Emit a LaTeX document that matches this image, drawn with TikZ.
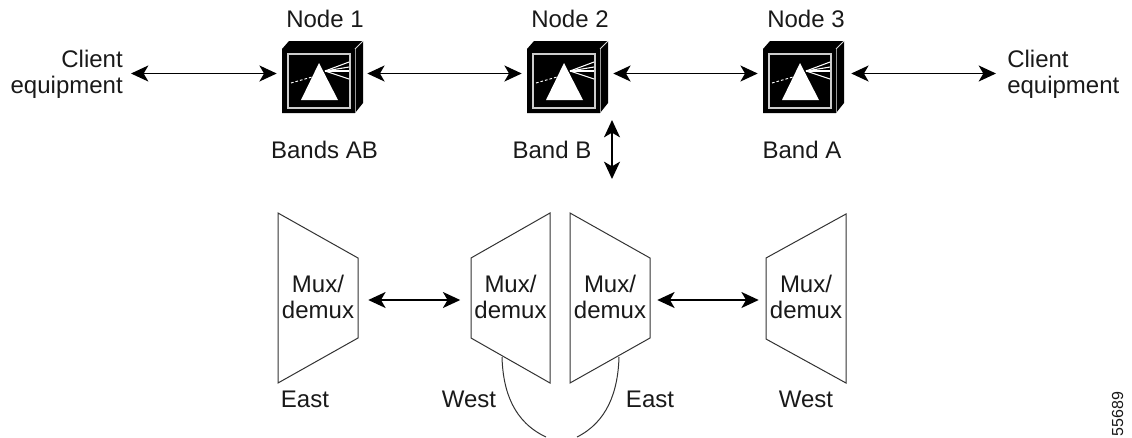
\documentclass[tikz,border=0pt]{standalone}
\usepackage{fontspec}
\setmainfont{Liberation Sans}
\usetikzlibrary{arrows.meta}
\tikzset{
  conn/.style={line width=1.2pt,draw=black,{Stealth[length=13pt,width=12pt,inset=3.5pt]}-{Stealth[length=13pt,width=12pt,inset=3.5pt]}},
  lab/.style={font=\fontsize{18}{19.5}\selectfont,text=black!90,inner sep=0pt,anchor=base},
  port/.style={inner sep=0pt,minimum width=#1,minimum height=64*0.75pt},
  muxbox/.style={inner sep=0pt,minimum width=60pt,minimum height=120pt,align=center,font=\fontsize{18}{19.5}\selectfont,text=black!90},
  trap/.style={draw=black!80,line width=0.75pt,line join=miter,fill=white},
  loopline/.style={draw=black!80,line width=0.75pt},
  prismframe/.style={draw=black!20,line width=0.9pt},
  ray/.style={draw=white,line width=0.8pt}
}
\newcommand{\prismbox}[1]{%
  \begin{scope}[shift={(#1,0)}]
    \fill[black] (282,49) -- (289,41) -- (363,41) -- (363,103) -- (355,113) -- (282,113) -- cycle;
    \draw[draw=black!15,line width=0.6pt] (355,49) -- (363,41);
    \draw[draw=black!40,line width=0.6pt] (355,49) -- (355,113);
    \draw[prismframe] (288,54) rectangle (350,108);
    \fill[white] (319,63) -- (338,100) -- (301,100) -- cycle;
    \draw[white,line width=0.7pt,dash pattern=on 2pt off 1.5pt] (291,83) -- (312,77);
    \draw[ray] (325,71) -- (349,62);
    \draw[ray] (325,71) -- (349,67);
    \draw[ray] (325,71) -- (349,71);
    \draw[ray] (325,71) -- (349,79);
  \end{scope}}
\begin{document}
\begin{tikzpicture}[x=0.75pt,y=-0.75pt]
\useasboundingbox (0,0) rectangle (1132,437);
% prism boxes
\prismbox{0}
\prismbox{245}
\prismbox{481}
% trapezoids
\draw[trap] (278,213) -- (358,258) -- (358,338) -- (278,383) -- cycle;
\draw[trap] (471,258) -- (550,213) -- (550,383) -- (471,338) -- cycle;
\draw[trap] (570,213) -- (650,258) -- (650,338) -- (570,383) -- cycle;
\draw[trap] (766,258) -- (846,214) -- (846,383) -- (766,339) -- cycle;
% invisible anchors for the nodes
\node[port=67.5pt] (n1) at (322,73.5) {};
\node[port=68.25pt] (n2) at (567.5,73.5) {};
\node[port=69.75pt] (n3) at (804.5,73.5) {};
\node[lab,anchor=base east,align=right] (cl) at (123,93) {Client\\[0pt]equipment};
\node[lab,anchor=base west,align=left] (cr) at (1007,93) {Client\\[0pt]equipment};
\coordinate (clport) at (131,73.5);
\coordinate (crport) at (996,73.5);
\coordinate (vtop) at (612,120);
\coordinate (vbot) at (612,179);
% labels
\node[lab] (l1) at (325,27) {Node 1};
\node[lab] (l2) at (570,27) {Node 2};
\node[lab] (l3) at (806,27) {Node 3};
\node[lab] (b1) at (324.5,158) {Bands AB};
\node[lab] (b2) at (552,158) {Band B};
\node[lab] (b3) at (802,158) {Band A};
% mux nodes
\node[muxbox] (m1) at (318,297) {Mux/\\demux};
\node[muxbox] (m2) at (510.5,297) {Mux/\\demux};
\node[muxbox] (m3) at (610,297) {Mux/\\demux};
\node[muxbox] (m4) at (806,297) {Mux/\\demux};
\node[lab] (e1) at (305,407) {East};
\node[lab] (w1) at (469,407) {West};
\node[lab] (e2) at (650,407) {East};
\node[lab] (w2) at (806,407) {West};
\node[inner sep=0pt,anchor=base,rotate=90,font=\fontsize{12}{14}\selectfont,text=black!90] (id) at (1123,414) {55689};
% connectors
\draw[conn] (clport) -- (n1.west);
\draw[conn] (n1.east) -- (n2.west);
\draw[conn] (n2.east) -- (n3.west);
\draw[conn] (n3.east) -- (crport);
\draw[conn] (vtop) -- (vbot);
\draw[conn,shorten <=7.5pt,shorten >=7.5pt] ([yshift=-2.25pt]m1.east) -- ([yshift=-2.25pt]m2.west);
\draw[conn,shorten <=5.25pt,shorten >=5.25pt] ([yshift=-2.25pt]m3.east) -- ([yshift=-2.25pt]m4.west);
% loop
\coordinate (lpa) at (502,357);
\coordinate (lpb) at (546,437);
\coordinate (lpc) at (619,357);
\coordinate (lpd) at (577,437);
\draw[loopline] (lpa) .. controls (503,392) and (514,422) .. (lpb);
\draw[loopline] (lpc) .. controls (618,392) and (607,422) .. (lpd);
\end{tikzpicture}
\end{document}
